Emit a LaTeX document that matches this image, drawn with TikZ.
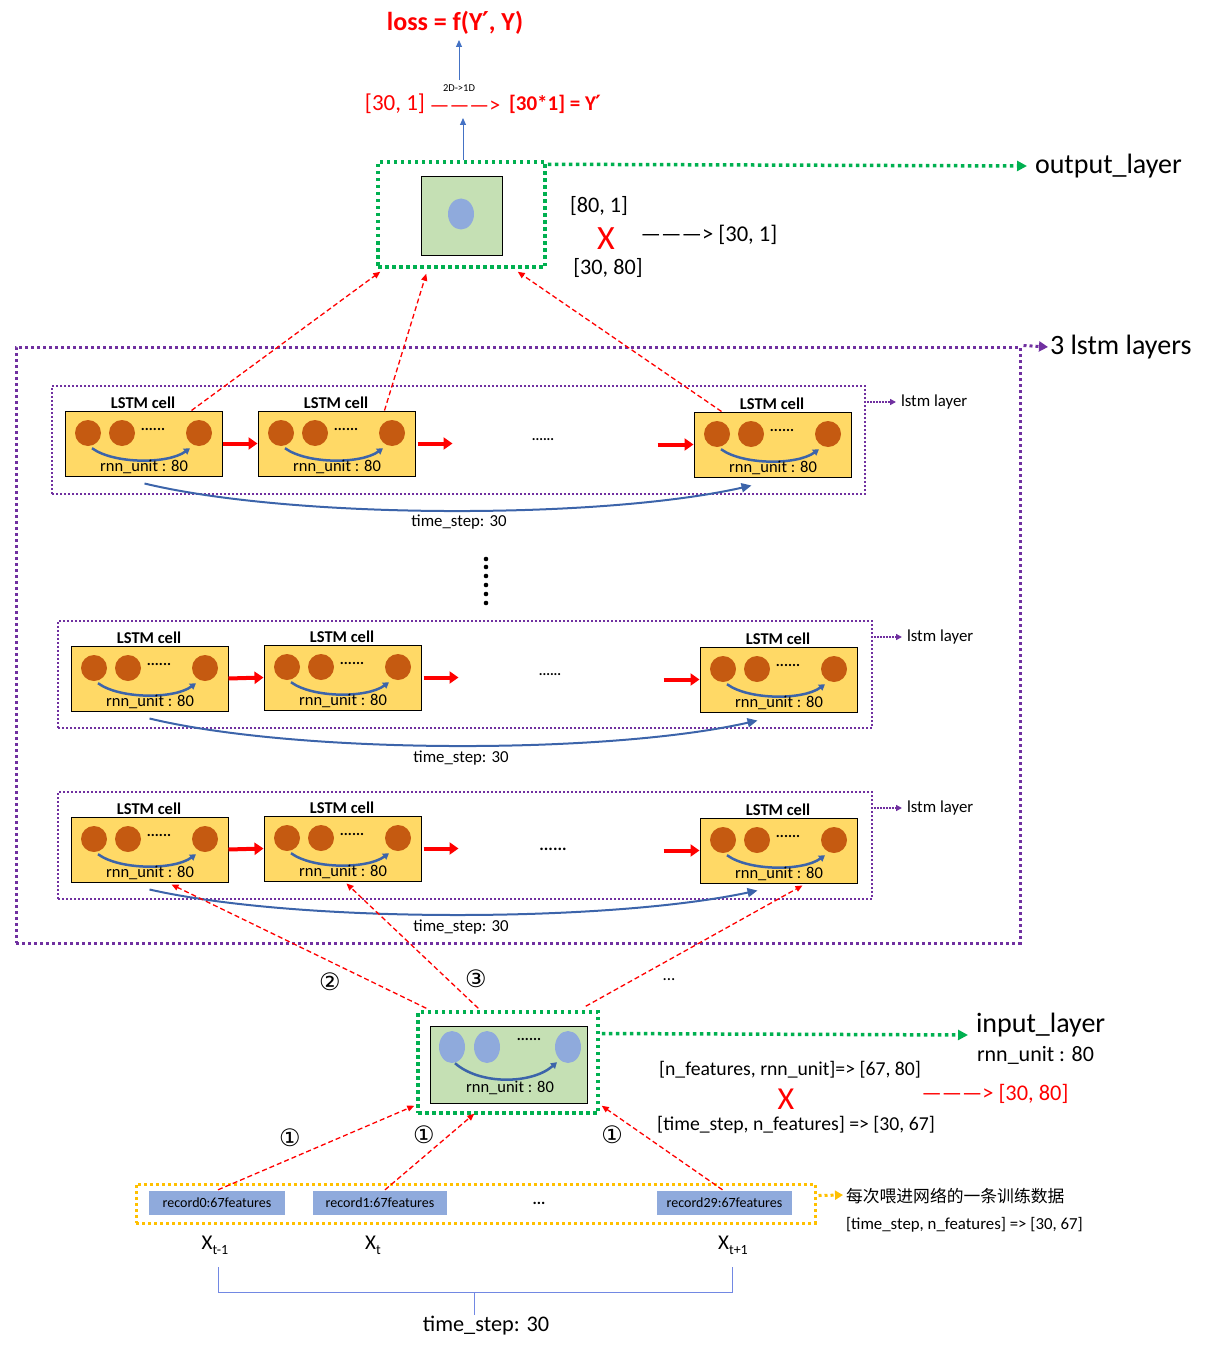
\documentclass[tikz,border=0pt]{standalone}
\usepackage{fontspec}
\setmainfont{Carlito}
\newfontfamily\cjk{Noto Sans CJK SC}
\newfontfamily\dv{DejaVu Sans}
\usetikzlibrary{arrows.meta,calc,shapes.geometric}
\definecolor{gg}{RGB}{0,176,80}
\definecolor{pp}{RGB}{112,48,160}
\definecolor{yy}{RGB}{255,192,0}
\definecolor{cellY}{RGB}{255,217,102}
\definecolor{org}{RGB}{197,90,17}
\definecolor{lgreen}{RGB}{197,224,180}
\definecolor{lblue}{RGB}{143,170,220}
\definecolor{mblue}{RGB}{60,100,170}
\definecolor{sblue}{RGB}{68,114,196}
\newcommand\fs[1]{\fontsize{#1}{#1}\selectfont}
\newcommand\pr{{\dv\kern-0.5pt′}}
\tikzset{
  txt/.style={inner sep=0pt, outer sep=0pt},
  cellbox/.style={draw=black, fill=cellY, line width=1pt, minimum width=157pt, minimum height=65pt, inner sep=0pt},
  circ/.style={circle, fill=org, minimum size=26pt, inner sep=0pt},
  bell/.style={ellipse, fill=lblue, minimum width=26pt, minimum height=31pt, inner sep=0pt},
  cellarc/.style={draw=mblue, line width=2.5pt, -{Triangle[length=6pt,width=7pt]}},
  bigarc/.style={draw=mblue, line width=2pt, -{Triangle[length=10pt,width=9pt]}},
  redarr/.style={draw=red, line width=4pt, -{Triangle[length=9pt,width=12pt]}},
  reddash/.style={draw=red, line width=1.3pt, dash pattern=on 5pt off 3pt, -{Triangle[length=7pt,width=6pt]}},
  gdot/.style={draw=gg, line width=3.5pt, dash pattern=on 3.5pt off 3.5pt},
  pdotO/.style={draw=pp, line width=3pt, dash pattern=on 3pt off 3pt},
  pdotI/.style={draw=pp, line width=2pt, dash pattern=on 2pt off 2pt},
  ydot/.style={draw=yy, line width=3pt, dash pattern=on 3pt off 3pt},
  recbox/.style={fill=lblue, minimum height=24pt, inner sep=0pt, font=\fs{14}},
  bluearr/.style={draw=sblue, line width=1pt, -{Triangle[length=7pt,width=6pt]}},
  laydot/.style={draw=pp, line width=1.5pt, dash pattern=on 1.5pt off 1.5pt, -{Triangle[length=6pt,width=6pt]}},
  circnum/.style={inner sep=0pt, outer sep=0pt, font=\dv\fs{24}},
}
\newcommand\mkcell[3]{%
  \node[cellbox] (#1) at ({#2+78.5},{#3+32.5}) {};
  \node[txt, font=\bfseries\fs{16.5}] (#1t) at ({#2+78},{#3-8}) {LSTM cell};
  \node[circ] (#1a) at ({#2+23},{#3+22}) {};
  \node[circ] (#1b) at ({#2+57},{#3+22}) {};
  \node[circ] (#1c) at ({#2+134},{#3+22}) {};
  \node[txt, font=\bfseries\fs{15}] (#1d) at ({#2+88},{#3+18}) {......};
  \draw[cellarc] ($(#1a.south)+(4,2)$) .. controls +(22,16) and +(-22,16) .. ($(#1c.south)+(-9,2)$);
  \node[txt, font=\fs{16.5}] (#1r) at ({#2+79},{#3+56}) {rnn\_unit : 80};
}
\begin{document}
\begin{tikzpicture}[x=1pt, y=-1pt]
\useasboundingbox (0,0) rectangle (1208,1348);

% ---------- top ----------
\node[txt, font=\bfseries\fs{26}, text=red] (loss) at (455,23) {loss = f(Y\pr, Y)};
\node[txt, font=\fs{23}, text=red] (v301) at (395,104) {[30, 1]};
\node[txt, font=\fs{22}, text=red] (flat) at (465,107) {———>};
\node[txt, font=\fs{10.5}] (d2d) at (459,88) {2D->1D};
\node[txt, font=\bfseries\fs{21}, text=red] (yp) at (555,104) {[30*1] = Y\pr};
\coordinate (lossfrom) at (459,80);
\draw[bluearr] (lossfrom) -- (lossfrom |- 0,40);

% output layer
\node[gdot, minimum width=167pt, minimum height=105pt, inner sep=0pt] (outb) at (461.5,214.5) {};
\node[draw=black, line width=1pt, fill=lgreen, minimum width=81pt, minimum height=78pt, inner sep=0pt] (outsq) at (461.5,216) {};
\node[bell] (oell) at (461,214) {};
\draw[bluearr] (outb.north -| 463,0) -- (463,118);
\node[txt, font=\fs{28}, anchor=west] (olab) at (1035,166) {output\_layer};
\draw[gdot, -{Triangle[length=10pt,width=10pt]}] ($(outb.north east)+(1,4)$) -- ($(olab.west)+(-8,0)$);
\node[txt, font=\fs{22.2}] (o801) at (599,206) {[80, 1]};
\node[txt, font=\fs{34}, text=red] (ox) at (606,239) {X};
\node[txt, font=\fs{22.6}] (o301) at (709,235) {———> [30, 1]};
\node[txt, font=\fs{22.2}] (o3080) at (608,268) {[30, 80]};

% ---------- lstm layers ----------
\node[pdotO, minimum width=1004pt, minimum height=596pt, inner sep=0pt] (outer) at (518,645) {};
\node[txt, font=\fs{28}, anchor=west] (l3lab) at (1050,347) {3 lstm layers};
\draw[pdotO, -{Triangle[length=9pt,width=10pt]}] ($(outer.north east)+(2,0)$) -- ($(l3lab.west)+(-2,0)$);

% layer 1
\node[pdotI, minimum width=813pt, minimum height=108pt, inner sep=0pt] (lay1) at (458.5,440) {};
\mkcell{c11}{65}{411}
\mkcell{c12}{258}{411}
\mkcell{c13}{694}{412}
\draw[redarr] (c11.east) -- (c12.west);
\draw[redarr] ($(c12.east)+(2,0)$) -- ++(35,0);
\node[txt, font=\bfseries\fs{14}] (dd1) at (543,440) {......};
\draw[redarr] ($(c13.west)+(-36,0)$) -- (c13.west);
\draw[bigarc] ($(c11.south west)+(80,7)$) .. controls +(150,36) and +(-150,34) .. ($(c13.south west)+(58,8)$);
\node[txt, font=\fs{16.8}] (ts1) at (459,522) {time\_step: 30};
\node[txt, font=\fs{16.8}, anchor=west] (ll1) at (901,402) {lstm layer};
\draw[laydot] (lay1.north east |- ll1.west) ++(1,0) -- ($(ll1.west)+(-5,0)$);

% vertical dots
\foreach \yy [count=\i] in {559,567,576,585,594,603} {
  \fill (486,\yy) circle (2.3pt);
}

% layer 2
\node[pdotI, minimum width=814pt, minimum height=107pt, inner sep=0pt] (lay2) at (465,674.5) {};
\mkcell{c21}{71}{646}
\mkcell{c22}{264}{645}
\mkcell{c23}{700}{647}
\draw[redarr] (c21.east) -- (c22.west);
\draw[redarr] ($(c22.east)+(2,0)$) -- ++(35,0);
\node[txt, font=\bfseries\fs{14}] (dd2) at (550,675) {......};
\draw[redarr] ($(c23.west)+(-36,0)$) -- (c23.west);
\draw[bigarc] ($(c21.south west)+(79,7)$) .. controls +(150,36) and +(-150,34) .. ($(c23.south west)+(58,8)$);
\node[txt, font=\fs{16.8}] (ts2) at (461,758) {time\_step: 30};
\node[txt, font=\fs{16.8}, anchor=west] (ll2) at (907,637) {lstm layer};
\draw[laydot] (lay2.north east |- ll2.west) ++(1,0) -- ($(ll2.west)+(-5,0)$);

% layer 3
\node[pdotI, minimum width=814pt, minimum height=107pt, inner sep=0pt] (lay3) at (465,845.5) {};
\mkcell{c31}{71}{817}
\mkcell{c32}{264}{816}
\mkcell{c33}{700}{818}
\draw[redarr] (c31.east) -- (c32.west);
\draw[redarr] ($(c32.east)+(2,0)$) -- ++(35,0);
\node[txt, font=\bfseries\fs{17}] (dd3) at (553,849) {......};
\draw[redarr] ($(c33.west)+(-36,0)$) -- (c33.west);
\draw[bigarc] ($(c31.south west)+(79,7)$) .. controls +(150,34) and +(-150,32) .. ($(c33.south west)+(58,7)$);
\node[txt, font=\fs{16.8}] (ts3) at (461,927) {time\_step: 30};
\node[txt, font=\fs{16.8}, anchor=west] (ll3) at (907,808) {lstm layer};
\draw[laydot] (lay3.north east |- ll3.west) ++(1,0) -- ($(ll3.west)+(-5,0)$);

% layer1 -> output
\draw[reddash] ($(c11.north west)+(127,0)$) -- ($(outb.south west)+(4,3)$);
\draw[reddash] ($(c12.north west)+(127,0)$) -- ($(outb.south west)+(50,5)$);
\draw[reddash] ($(c13.north west)+(28,0)$) -- ($(outb.south east)+(-29,3)$);

% ---------- input layer ----------
\node[gdot, minimum width=180pt, minimum height=101pt, inner sep=0pt] (inb) at (508,1062.5) {};
\node[draw=black, line width=1pt, fill=lgreen, minimum width=157pt, minimum height=77pt, inner sep=0pt] (insq) at (508.5,1064.5) {};
\node[bell, minimum height=32pt] (ie1) at (452,1047) {};
\node[bell, minimum height=32pt] (ie2) at (487,1047) {};
\node[bell, minimum height=32pt] (ie3) at (568,1047) {};
\node[txt, font=\bfseries\fs{15}] (idd) at (529,1039) {......};
\draw[cellarc] ($(ie1.south)+(3,0)$) .. controls +(25,22) and +(-25,22) .. ($(ie3.south)+(-11,-1)$);
\node[txt, font=\fs{16.5}] (irnn) at (510,1088) {rnn\_unit : 80};

\node[txt, font=\fs{28}, anchor=west] (ilab) at (976,1025) {input\_layer};
\node[txt, font=\fs{22}, anchor=west] (irn) at (977,1055) {rnn\_unit : 80};
\draw[gdot, -{Triangle[length=10pt,width=10pt]}] ($(inb.east)+(2,-29)$) -- (968,1035);
\node[txt, font=\fs{19.7}] (inf) at (790,1070) {[n\_features, rnn\_unit]=> [67, 80]};
\node[txt, font=\fs{32}, text=red] (ix) at (786,1099) {X};
\node[txt, font=\fs{19.7}] (itsf) at (796,1125) {[time\_step, n\_features] => [30, 67]};
\node[txt, font=\fs{22.4}, text=red] (i3080) at (995,1094) {———> [30, 80]};

% input -> layer 3
\draw[reddash] ($(inb.north west)+(10,-2)$) -- ($(c31.south west)+(101,2)$);
\draw[reddash] ($(inb.north west)+(62,-2)$) -- ($(c32.south west)+(83,2)$);
\draw[reddash] ($(inb.north east)+(-14,-4)$) -- ($(c33.south west)+(103,2)$);
\node[circnum] (n2) at (330,982) {②};
\node[circnum] (n3) at (476,979) {③};
\node[txt, font=\fs{17}] (n4) at (669,980) {...};

% ---------- records ----------
\node[ydot, minimum width=679pt, minimum height=39pt, inner sep=0pt] (recs) at (475.5,1203.5) {};
\node[recbox, minimum width=136pt] (r0) at (217,1203) {record0:67features};
\node[recbox, minimum width=134pt] (r1) at (380,1203) {record1:67features};
\node[recbox, minimum width=135pt] (r29) at (724.5,1203) {record29:67features};
\node[txt, font=\bfseries\fs{16}] (rdots) at (539,1203) {...};
\draw[reddash] ($(r0.north)+(1,-1)$) -- ($(inb.south west)+(-2,-9)$);
\draw[reddash] ($(r1.north)+(5,-1)$) -- ($(inb.south west)+(58,-1)$);
\draw[reddash] ($(r29.north)+(-2,-1)$) -- ($(inb.south east)+(2,-9)$);
\node[circnum] (n1a) at (290,1138) {①};
\node[circnum] (n1b) at (424,1135) {①};
\node[circnum] (n1c) at (612,1135) {①};

\node[txt, font=\cjk\fs{16.8}, anchor=west] (cn) at (846,1196) {每次喂进网络的一条训练数据};
\draw[ydot, -{Triangle[length=8pt,width=9pt]}] ($(recs.east)+(2,-8)$) -- ($(cn.west)+(-3,-1)$);
\node[txt, font=\fs{16.8}, anchor=west] (rts) at (846,1225) {[time\_step, n\_features] => [30, 67]};

% X labels
\node[txt, font=\fs{21}] (xa) at (215,1245) {X\raisebox{-5pt}{\fs{14}t-1}};
\node[txt, font=\fs{21}] (xb) at (373,1245) {X\raisebox{-5pt}{\fs{14}t}};
\node[txt, font=\fs{21}] (xc) at (733,1245) {X\raisebox{-5pt}{\fs{14}t+1}};
\coordinate (bl) at (218,1267);
\coordinate (br) at (732,1267);
\coordinate (bm) at (474,1292);
\draw[draw=lblue!80!blue, line width=1pt] (bl) -- (bl |- bm) -- (br |- bm) -- (br);
\node[txt, font=\fs{22.3}] (tsb) at (486,1326) {time\_step: 30};
\draw[draw=lblue!80!blue, line width=1pt] (bm) -- ($(tsb.north -| bm)+(0,-2)$);
\end{tikzpicture}
\end{document}
